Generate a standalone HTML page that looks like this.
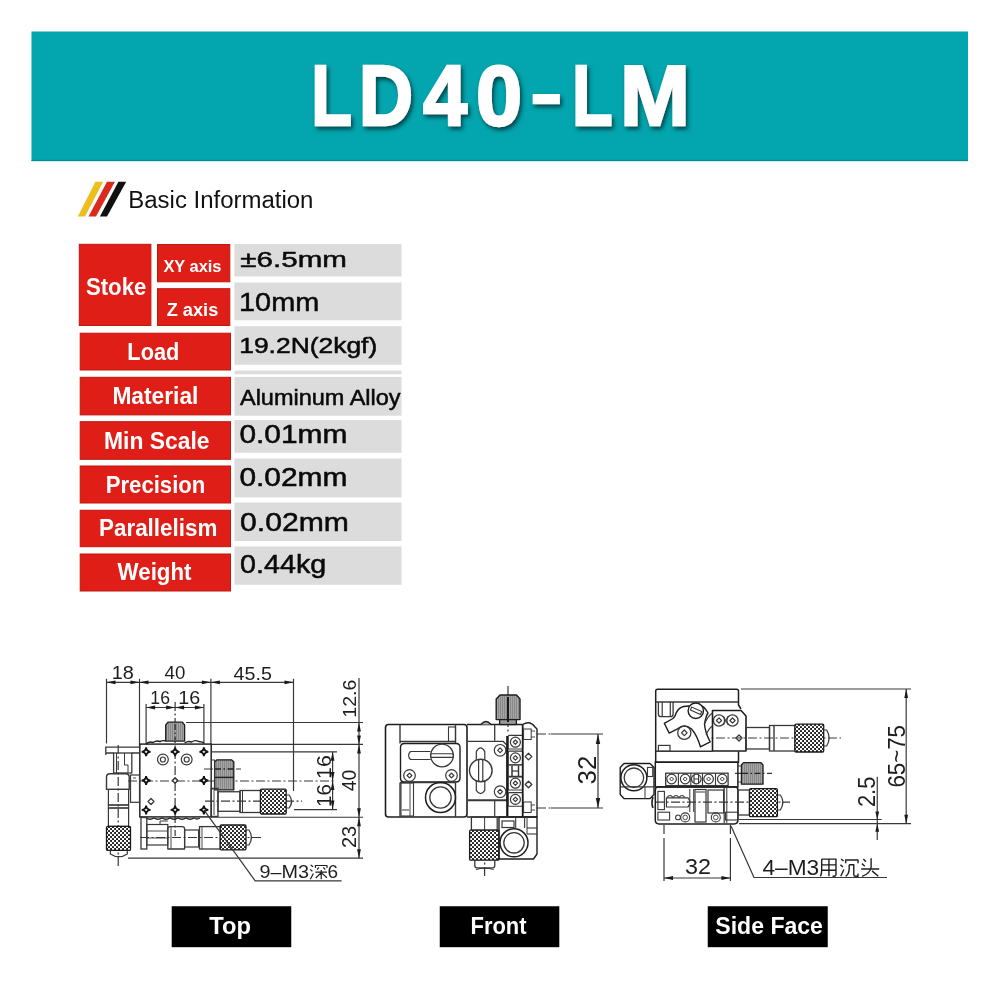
<!DOCTYPE html>
<html><head><meta charset="utf-8">
<style>
html,body{margin:0;padding:0;background:#fff;width:1000px;height:1000px;overflow:hidden;}
svg{position:absolute;left:0;top:0;will-change:transform;}
text{font-family:"Liberation Sans",sans-serif;}
</style></head><body>
<svg width="1000" height="1000" viewBox="0 0 1000 1000">
<defs>
<filter id="sh" x="-10%" y="-30%" width="130%" height="170%">
<feGaussianBlur in="SourceAlpha" stdDeviation="2.0"/>
<feOffset dx="2" dy="3" result="o"/>
<feFlood flood-color="#06343a" flood-opacity="0.85"/>
<feComposite in2="o" operator="in"/>
<feMerge><feMergeNode/><feMergeNode in="SourceGraphic"/></feMerge>
</filter>
</defs>
<rect x="31.5" y="31.5" width="936.5" height="129.5" fill="#03A5AE"/>
<rect x="31.5" y="159.8" width="936.5" height="1.4" fill="#0A8A90"/>
<g filter="url(#sh)"><text x="311.36" y="124.60" font-size="84.61" font-weight="bold" fill="#fff" textLength="40.70" lengthAdjust="spacingAndGlyphs" stroke="#fff" stroke-width="2.4" stroke-linejoin="miter">L</text><text x="358.78" y="124.60" font-size="84.61" font-weight="bold" fill="#fff" textLength="54.40" lengthAdjust="spacingAndGlyphs" stroke="#fff" stroke-width="2.4" stroke-linejoin="miter">D</text><text x="422.94" y="124.60" font-size="84.61" font-weight="bold" fill="#fff" textLength="44.15" lengthAdjust="spacingAndGlyphs" stroke="#fff" stroke-width="2.4" stroke-linejoin="miter">4</text><text x="475.88" y="124.60" font-size="84.61" font-weight="bold" fill="#fff" textLength="46.20" lengthAdjust="spacingAndGlyphs" stroke="#fff" stroke-width="2.4" stroke-linejoin="miter">0</text><text x="571.91" y="124.60" font-size="84.61" font-weight="bold" fill="#fff" textLength="40.64" lengthAdjust="spacingAndGlyphs" stroke="#fff" stroke-width="2.4" stroke-linejoin="miter">L</text><text x="620.05" y="124.60" font-size="84.61" font-weight="bold" fill="#fff" textLength="69.97" lengthAdjust="spacingAndGlyphs" stroke="#fff" stroke-width="2.4" stroke-linejoin="miter">M</text><rect x="532.65" y="94" width="27.2" height="10.2" fill="#fff"/></g>
<polygon points="77.8,216.6 95.4,181.8 103.2,181.8 85,216.6" fill="#EDBF1E"/>
<polygon points="88.5,216.6 107,181.8 114.9,181.8 96,216.6" fill="#DB2A1C"/>
<polygon points="99.9,216.6 118.4,181.8 126.2,181.8 107,216.6" fill="#101010"/>
<text x="128.30" y="208.00" font-size="23.45" font-weight="normal" fill="#111" textLength="185.07" lengthAdjust="spacingAndGlyphs" >Basic Information</text>
<rect x="79.30" y="244.30" width="71.60" height="81.20" fill="#DF1F17" stroke="#C0170F" stroke-width="1"/>
<rect x="157.50" y="244.50" width="72.30" height="37.30" fill="#DF1F17" stroke="#C0170F" stroke-width="1"/>
<rect x="157.50" y="288.70" width="72.30" height="36.80" fill="#DF1F17" stroke="#C0170F" stroke-width="1"/>
<rect x="80.20" y="333.20" width="150.30" height="36.80" fill="#DF1F17" stroke="#C0170F" stroke-width="1"/>
<rect x="80.20" y="377.30" width="150.30" height="37.60" fill="#DF1F17" stroke="#C0170F" stroke-width="1"/>
<rect x="80.20" y="421.70" width="150.30" height="37.60" fill="#DF1F17" stroke="#C0170F" stroke-width="1"/>
<rect x="80.20" y="466.00" width="150.30" height="37.00" fill="#DF1F17" stroke="#C0170F" stroke-width="1"/>
<rect x="80.20" y="510.25" width="150.30" height="36.45" fill="#DF1F17" stroke="#C0170F" stroke-width="1"/>
<rect x="80.20" y="554.00" width="150.30" height="37.00" fill="#DF1F17" stroke="#C0170F" stroke-width="1"/>
<text x="85.93" y="295.30" font-size="23.30" font-weight="bold" fill="#fff" textLength="60.40" lengthAdjust="spacingAndGlyphs" >Stoke</text>
<text x="163.44" y="271.90" font-size="17.04" font-weight="bold" fill="#fff" textLength="58.02" lengthAdjust="spacingAndGlyphs" >XY axis</text>
<text x="166.65" y="316.00" font-size="18.35" font-weight="bold" fill="#fff" textLength="51.64" lengthAdjust="spacingAndGlyphs" >Z axis</text>
<text x="127.35" y="360.40" font-size="23.30" font-weight="bold" fill="#fff" textLength="51.97" lengthAdjust="spacingAndGlyphs" >Load</text>
<text x="112.38" y="404.40" font-size="23.30" font-weight="bold" fill="#fff" textLength="86.07" lengthAdjust="spacingAndGlyphs" >Material</text>
<text x="104.08" y="448.80" font-size="23.30" font-weight="bold" fill="#fff" textLength="105.47" lengthAdjust="spacingAndGlyphs" >Min Scale</text>
<text x="105.72" y="492.80" font-size="23.30" font-weight="bold" fill="#fff" textLength="99.65" lengthAdjust="spacingAndGlyphs" >Precision</text>
<text x="99.01" y="536.20" font-size="23.30" font-weight="bold" fill="#fff" textLength="118.36" lengthAdjust="spacingAndGlyphs" >Parallelism</text>
<text x="117.60" y="580.20" font-size="23.30" font-weight="bold" fill="#fff" textLength="73.92" lengthAdjust="spacingAndGlyphs" >Weight</text>
<rect x="234.40" y="244.00" width="167.10" height="32.50" fill="#DCDCDC"/>
<rect x="234.40" y="282.50" width="167.10" height="37.80" fill="#DCDCDC"/>
<rect x="234.40" y="326.20" width="167.10" height="38.60" fill="#DCDCDC"/>
<rect x="234.40" y="370.60" width="167.10" height="3.70" fill="#DCDCDC"/>
<rect x="234.40" y="376.90" width="167.10" height="38.80" fill="#DCDCDC"/>
<rect x="234.40" y="420.00" width="167.10" height="32.80" fill="#DCDCDC"/>
<rect x="234.40" y="458.50" width="167.10" height="38.90" fill="#DCDCDC"/>
<rect x="234.40" y="502.50" width="167.10" height="38.50" fill="#DCDCDC"/>
<rect x="234.40" y="546.40" width="167.10" height="38.40" fill="#DCDCDC"/>
<text x="240.36" y="266.55" font-size="22.82" font-weight="normal" fill="#0a0a0a" textLength="106.51" lengthAdjust="spacingAndGlyphs" stroke="#0a0a0a" stroke-width="0.5">±6.5mm</text>
<text x="239.04" y="310.55" font-size="26.07" font-weight="normal" fill="#0a0a0a" textLength="80.19" lengthAdjust="spacingAndGlyphs" stroke="#0a0a0a" stroke-width="0.5">10mm</text>
<text x="239.22" y="352.75" font-size="21.55" font-weight="normal" fill="#0a0a0a" textLength="138.03" lengthAdjust="spacingAndGlyphs" stroke="#0a0a0a" stroke-width="0.5">19.2N(2kgf)</text>
<text x="239.97" y="404.75" font-size="21.70" font-weight="normal" fill="#0a0a0a" textLength="160.64" lengthAdjust="spacingAndGlyphs" stroke="#0a0a0a" stroke-width="0.5">Aluminum Alloy</text>
<text x="239.45" y="443.15" font-size="25.12" font-weight="normal" fill="#0a0a0a" textLength="107.96" lengthAdjust="spacingAndGlyphs" stroke="#0a0a0a" stroke-width="0.5">0.01mm</text>
<text x="239.45" y="486.35" font-size="25.12" font-weight="normal" fill="#0a0a0a" textLength="107.96" lengthAdjust="spacingAndGlyphs" stroke="#0a0a0a" stroke-width="0.5">0.02mm</text>
<text x="240.04" y="530.55" font-size="25.98" font-weight="normal" fill="#0a0a0a" textLength="108.88" lengthAdjust="spacingAndGlyphs" stroke="#0a0a0a" stroke-width="0.5">0.02mm</text>
<text x="240.10" y="572.55" font-size="25.98" font-weight="normal" fill="#0a0a0a" textLength="86.24" lengthAdjust="spacingAndGlyphs" stroke="#0a0a0a" stroke-width="0.5">0.44kg</text>
<rect x="171.70" y="906.25" width="119.55" height="40.95" fill="#000"/>
<rect x="439.75" y="906.25" width="119.55" height="40.95" fill="#000"/>
<rect x="707.75" y="906.25" width="120.00" height="40.95" fill="#000"/>
<text x="209.26" y="934.30" font-size="24.76" font-weight="bold" fill="#fff" textLength="41.72" lengthAdjust="spacingAndGlyphs" >Top</text>
<text x="470.54" y="934.30" font-size="24.76" font-weight="bold" fill="#fff" textLength="56.01" lengthAdjust="spacingAndGlyphs" >Front</text>
<text x="715.31" y="934.30" font-size="24.76" font-weight="bold" fill="#fff" textLength="107.63" lengthAdjust="spacingAndGlyphs" >Side Face</text>
<defs><pattern id="kn" width="4" height="4" patternUnits="userSpaceOnUse"><rect width="4" height="4" fill="#262626"/><rect x="0" y="0" width="2.1" height="2.1" fill="#fdfdfd"/><rect x="2" y="2" width="2.1" height="2.1" fill="#fdfdfd"/></pattern><pattern id="kd" width="4" height="4" patternUnits="userSpaceOnUse" patternTransform="rotate(45)"><rect width="4" height="4" fill="#1c1c1c"/><rect x="0.1" y="0.1" width="1.8" height="1.8" fill="#fbfbfb"/><rect x="2.1" y="2.1" width="1.8" height="1.8" fill="#fbfbfb"/></pattern><pattern id="gk" width="2" height="10" patternUnits="userSpaceOnUse"><rect width="2" height="10" fill="#a6a6a6"/><rect x="0" width="1" height="10" fill="#888888"/></pattern></defs>
<line x1="175.10" y1="702.00" x2="175.10" y2="836.00" stroke="#383838" stroke-width="1.2" stroke-dasharray="9,2.5,2,2.5"/>
<line x1="128.00" y1="781.00" x2="336.00" y2="781.00" stroke="#383838" stroke-width="1.2" stroke-dasharray="9,2.5,2,2.5"/>
<line x1="118.20" y1="745.00" x2="118.20" y2="867.00" stroke="#383838" stroke-width="1.2" stroke-dasharray="9,2.5,2,2.5"/>
<line x1="204.00" y1="769.00" x2="241.00" y2="769.00" stroke="#383838" stroke-width="1.2" stroke-dasharray="9,2.5,2,2.5"/>
<line x1="205.00" y1="801.10" x2="302.00" y2="801.10" stroke="#383838" stroke-width="1.2" stroke-dasharray="9,2.5,2,2.5"/>
<line x1="140.00" y1="837.50" x2="262.00" y2="837.50" stroke="#383838" stroke-width="1.2" stroke-dasharray="9,2.5,2,2.5"/>
<line x1="508.00" y1="686.00" x2="508.00" y2="734.00" stroke="#383838" stroke-width="1.2" stroke-dasharray="9,2.5,2,2.5"/>
<line x1="484.60" y1="835.00" x2="484.60" y2="878.00" stroke="#383838" stroke-width="1.2" stroke-dasharray="9,2.5,2,2.5"/>
<line x1="537.00" y1="734.00" x2="551.00" y2="734.00" stroke="#383838" stroke-width="1.2" stroke-dasharray="9,2.5,2,2.5"/>
<line x1="537.00" y1="808.00" x2="551.00" y2="808.00" stroke="#383838" stroke-width="1.2" stroke-dasharray="9,2.5,2,2.5"/>
<line x1="700.00" y1="738.00" x2="841.00" y2="738.00" stroke="#383838" stroke-width="1.2" stroke-dasharray="9,2.5,2,2.5"/>
<line x1="735.00" y1="773.40" x2="772.00" y2="773.40" stroke="#383838" stroke-width="1.2" stroke-dasharray="9,2.5,2,2.5"/>
<line x1="655.00" y1="802.20" x2="790.00" y2="802.20" stroke="#383838" stroke-width="1.2" stroke-dasharray="9,2.5,2,2.5"/>
<line x1="664.00" y1="825.00" x2="664.00" y2="836.00" stroke="#383838" stroke-width="1.2" stroke-dasharray="9,2.5,2,2.5"/>
<line x1="730.40" y1="825.00" x2="730.40" y2="836.00" stroke="#383838" stroke-width="1.2" stroke-dasharray="9,2.5,2,2.5"/>
<line x1="106.50" y1="682.30" x2="293.50" y2="682.30" stroke="#383838" stroke-width="1.2"/>
<line x1="106.50" y1="678.80" x2="106.50" y2="743.50" stroke="#383838" stroke-width="1.2"/>
<line x1="139.50" y1="678.80" x2="139.50" y2="747.00" stroke="#383838" stroke-width="1.2"/>
<line x1="210.90" y1="678.80" x2="210.90" y2="744.00" stroke="#383838" stroke-width="1.2"/>
<line x1="293.50" y1="678.80" x2="293.50" y2="791.00" stroke="#383838" stroke-width="1.2"/>
<polygon points="106.50,682.30 115.50,680.40 115.50,684.20" fill="#1a1a1a"/>
<polygon points="139.50,682.30 130.50,684.20 130.50,680.40" fill="#1a1a1a"/>
<polygon points="139.50,682.30 148.50,680.40 148.50,684.20" fill="#1a1a1a"/>
<polygon points="210.90,682.30 201.90,684.20 201.90,680.40" fill="#1a1a1a"/>
<polygon points="210.90,682.30 219.90,680.40 219.90,684.20" fill="#1a1a1a"/>
<polygon points="293.50,682.30 284.50,684.20 284.50,680.40" fill="#1a1a1a"/>
<text x="111.67" y="679.10" font-size="18.66" font-weight="normal" fill="#1e1e1e" textLength="22.17" lengthAdjust="spacingAndGlyphs" >18</text>
<text x="164.56" y="679.10" font-size="18.66" font-weight="normal" fill="#1e1e1e" textLength="20.76" lengthAdjust="spacingAndGlyphs" >40</text>
<text x="233.54" y="680.20" font-size="19.09" font-weight="normal" fill="#1e1e1e" textLength="38.30" lengthAdjust="spacingAndGlyphs" >45.5</text>
<line x1="146.10" y1="707.50" x2="203.90" y2="707.50" stroke="#383838" stroke-width="1.2"/>
<line x1="146.10" y1="704.00" x2="146.10" y2="744.00" stroke="#383838" stroke-width="1.2"/>
<line x1="203.90" y1="704.00" x2="203.90" y2="744.00" stroke="#383838" stroke-width="1.2"/>
<polygon points="146.10,707.50 155.10,705.60 155.10,709.40" fill="#1a1a1a"/>
<polygon points="175.10,707.50 166.10,709.40 166.10,705.60" fill="#1a1a1a"/>
<polygon points="175.10,707.50 184.10,705.60 184.10,709.40" fill="#1a1a1a"/>
<polygon points="203.90,707.50 194.90,709.40 194.90,705.60" fill="#1a1a1a"/>
<text x="150.35" y="704.00" font-size="19.09" font-weight="normal" fill="#1e1e1e" textLength="19.60" lengthAdjust="spacingAndGlyphs" >16</text>
<text x="178.19" y="704.00" font-size="19.09" font-weight="normal" fill="#1e1e1e" textLength="21.95" lengthAdjust="spacingAndGlyphs" >16</text>
<line x1="186.00" y1="722.50" x2="363.00" y2="722.50" stroke="#383838" stroke-width="1.2"/>
<line x1="211.00" y1="744.40" x2="363.00" y2="744.40" stroke="#383838" stroke-width="1.2"/>
<line x1="211.00" y1="751.80" x2="337.00" y2="751.80" stroke="#383838" stroke-width="1.2"/>
<line x1="294.00" y1="809.60" x2="337.00" y2="809.60" stroke="#383838" stroke-width="1.2"/>
<line x1="211.00" y1="817.25" x2="363.00" y2="817.25" stroke="#383838" stroke-width="1.2"/>
<line x1="128.00" y1="858.20" x2="363.00" y2="858.20" stroke="#383838" stroke-width="1.2"/>
<line x1="359.00" y1="678.00" x2="359.00" y2="858.20" stroke="#383838" stroke-width="1.2"/>
<polygon points="359.00,722.50 360.90,731.50 357.10,731.50" fill="#1a1a1a"/>
<polygon points="359.00,744.40 357.10,735.40 360.90,735.40" fill="#1a1a1a"/>
<polygon points="359.00,744.40 360.90,753.40 357.10,753.40" fill="#1a1a1a"/>
<polygon points="359.00,817.25 357.10,808.25 360.90,808.25" fill="#1a1a1a"/>
<polygon points="359.00,817.25 360.90,826.25 357.10,826.25" fill="#1a1a1a"/>
<polygon points="359.00,858.20 357.10,849.20 360.90,849.20" fill="#1a1a1a"/>
<line x1="332.60" y1="751.80" x2="332.60" y2="809.60" stroke="#383838" stroke-width="1.2"/>
<polygon points="332.60,751.80 334.50,760.80 330.70,760.80" fill="#1a1a1a"/>
<polygon points="332.60,781.00 330.70,772.00 334.50,772.00" fill="#1a1a1a"/>
<polygon points="332.60,781.00 334.50,790.00 330.70,790.00" fill="#1a1a1a"/>
<polygon points="332.60,809.60 330.70,800.60 334.50,800.60" fill="#1a1a1a"/>
<g transform="translate(356.40,716.20) rotate(-90)"><text x="-1.50" y="0" font-size="18.23" font-weight="normal" fill="#1e1e1e" textLength="38.04" lengthAdjust="spacingAndGlyphs" >12.6</text></g>
<g transform="translate(331.00,777.30) rotate(-90)"><text x="-1.64" y="0" font-size="19.67" font-weight="normal" fill="#1e1e1e" textLength="23.85" lengthAdjust="spacingAndGlyphs" >16</text></g>
<g transform="translate(331.00,805.40) rotate(-90)"><text x="-1.57" y="0" font-size="19.67" font-weight="normal" fill="#1e1e1e" textLength="22.84" lengthAdjust="spacingAndGlyphs" >16</text></g>
<g transform="translate(356.40,790.90) rotate(-90)"><text x="-0.45" y="0" font-size="19.52" font-weight="normal" fill="#1e1e1e" textLength="21.61" lengthAdjust="spacingAndGlyphs" >40</text></g>
<g transform="translate(356.40,847.00) rotate(-90)"><text x="-1.00" y="0" font-size="19.52" font-weight="normal" fill="#1e1e1e" textLength="22.25" lengthAdjust="spacingAndGlyphs" >23</text></g>
<path d="M165.7,741.1 L165.7,725 L168,722.2 L182.3,722.2 L184.6,725 L184.6,741.1 Z" stroke="#1e1e1e" stroke-width="1.3" fill="url(#gk)" stroke-linejoin="round"/>
<line x1="175.10" y1="724.00" x2="175.10" y2="740.00" stroke="#222" stroke-width="1.2" stroke-dasharray="6,2.5,1.5,2.5"/>
<path d="M146,744 q3.5,-3 7,-1.5 q3.5,-2.5 7,-1 q3,-1.5 5.5,-0.5 M184.6,743 q3.5,-2.5 7,-1 q3.5,-2.5 7,-0.5 q3,0 5.5,1.5" stroke="#222" stroke-width="1.4" fill="none" stroke-linejoin="round"/>
<rect x="139.80" y="744.10" width="71.40" height="72.80" rx="0" stroke="#262626" stroke-width="1.5" fill="none"/>
<path d="M146,818 q4,2.5 8,0 q4,2.5 8,0 q4,2.5 8,0 q4,2.5 8,0 q4,2.5 8,0 q4,2.5 8,0 q3,2 6,0" stroke="#222" stroke-width="1.3" fill="none" stroke-linejoin="round"/>
<path d="M141.70,751.80 Q145.75,751.45 146.10,747.40 Q146.45,751.45 150.50,751.80 Q146.45,752.15 146.10,756.20 Q145.75,752.15 141.70,751.80Z" fill="#fff" stroke="#111" stroke-width="1.8"/>
<path d="M141.70,780.50 Q145.75,780.15 146.10,776.10 Q146.45,780.15 150.50,780.50 Q146.45,780.85 146.10,784.90 Q145.75,780.85 141.70,780.50Z" fill="#fff" stroke="#111" stroke-width="1.8"/>
<path d="M141.70,809.90 Q145.75,809.55 146.10,805.50 Q146.45,809.55 150.50,809.90 Q146.45,810.25 146.10,814.30 Q145.75,810.25 141.70,809.90Z" fill="#fff" stroke="#111" stroke-width="1.8"/>
<path d="M170.70,751.80 Q174.75,751.45 175.10,747.40 Q175.45,751.45 179.50,751.80 Q175.45,752.15 175.10,756.20 Q174.75,752.15 170.70,751.80Z" fill="#fff" stroke="#111" stroke-width="1.8"/>
<polygon points="172.30,780.50 175.10,777.70 177.90,780.50 175.10,783.30" stroke="#383838" stroke-width="1.3" fill="none" stroke-linejoin="round"/>
<path d="M170.70,809.90 Q174.75,809.55 175.10,805.50 Q175.45,809.55 179.50,809.90 Q175.45,810.25 175.10,814.30 Q174.75,810.25 170.70,809.90Z" fill="#fff" stroke="#111" stroke-width="1.8"/>
<path d="M199.50,751.80 Q203.55,751.45 203.90,747.40 Q204.25,751.45 208.30,751.80 Q204.25,752.15 203.90,756.20 Q203.55,752.15 199.50,751.80Z" fill="#fff" stroke="#111" stroke-width="1.8"/>
<path d="M199.50,780.50 Q203.55,780.15 203.90,776.10 Q204.25,780.15 208.30,780.50 Q204.25,780.85 203.90,784.90 Q203.55,780.85 199.50,780.50Z" fill="#fff" stroke="#111" stroke-width="1.8"/>
<path d="M199.50,809.90 Q203.55,809.55 203.90,805.50 Q204.25,809.55 208.30,809.90 Q204.25,810.25 203.90,814.30 Q203.55,810.25 199.50,809.90Z" fill="#fff" stroke="#111" stroke-width="1.8"/>
<circle cx="162.90" cy="759.50" r="5.40" stroke="#383838" stroke-width="1.2" fill="none"/>
<circle cx="162.90" cy="759.50" r="2.50" stroke="#383838" stroke-width="1.2" fill="none"/>
<circle cx="186.70" cy="759.50" r="5.40" stroke="#383838" stroke-width="1.2" fill="none"/>
<circle cx="186.70" cy="759.50" r="2.50" stroke="#383838" stroke-width="1.2" fill="none"/>
<polygon points="148.00,801.50 151.00,798.50 154.00,801.50 151.00,804.50" stroke="#383838" stroke-width="1.3" fill="none" stroke-linejoin="round"/>
<path d="M105.8,755 L105.8,747.1 L139.5,747.1 M105.8,753 L113.6,753 M131.8,753 L139.5,753" stroke="#383838" stroke-width="1.3" fill="none" stroke-linejoin="round"/>
<rect x="113.60" y="753.00" width="18.20" height="20.00" rx="0" stroke="#383838" stroke-width="1.3" fill="none"/>
<line x1="116.50" y1="753.00" x2="116.50" y2="773.00" stroke="#383838" stroke-width="1.0"/>
<line x1="124.50" y1="753.00" x2="124.50" y2="765.00" stroke="#383838" stroke-width="1.0"/>
<path d="M124.5,765 L128,765 L128,773" stroke="#383838" stroke-width="1.0" fill="none" stroke-linejoin="round"/>
<rect x="130.50" y="775.00" width="9.00" height="27.30" rx="0" stroke="#383838" stroke-width="1.2" fill="none"/>
<line x1="133.00" y1="778.00" x2="136.00" y2="778.00" stroke="#383838" stroke-width="0.9"/>
<path d="M106.5,789.4 L106.5,777 Q106.5,773.8 110,773.8 L125.7,773.8 Q129.2,773.8 129.2,777 L129.2,789.4 Z" stroke="#383838" stroke-width="1.4" fill="none" stroke-linejoin="round"/>
<rect x="108.40" y="789.40" width="20.20" height="15.60" rx="0" stroke="#383838" stroke-width="1.2" fill="none"/>
<rect x="108.40" y="805.00" width="20.20" height="3.00" rx="0" stroke="#383838" stroke-width="1.1" fill="none"/>
<rect x="108.40" y="808.00" width="20.20" height="18.40" rx="0" stroke="#383838" stroke-width="1.2" fill="none"/>
<rect x="106.50" y="826.40" width="24.00" height="24.00" rx="1.2" fill="url(#kn)" stroke="#1a1a1a" stroke-width="1.3"/>
<path d="M110.40,850.40 L110.40,853.90 Q118.85,859.50 127.30,853.90 L127.30,850.40" stroke="#383838" stroke-width="1.2" fill="none" stroke-linejoin="round"/>
<path d="M214.6,789.8 L214.6,762 L217,759.8 L231.5,759.8 L233.8,762 L233.8,789.8 Z" stroke="#1e1e1e" stroke-width="1.3" fill="url(#gk)" stroke-linejoin="round"/>
<line x1="214.60" y1="777.40" x2="233.80" y2="777.40" stroke="#222" stroke-width="1.4"/>
<line x1="215.00" y1="769.00" x2="234.00" y2="769.00" stroke="#222" stroke-width="1.3" stroke-dasharray="6,2.5,1.5,2.5"/>
<rect x="211.50" y="760.00" width="3.10" height="29.00" rx="0" stroke="#383838" stroke-width="1.0" fill="none"/>
<rect x="211.20" y="788.40" width="6.80" height="28.00" rx="0" stroke="#383838" stroke-width="1.3" fill="none"/>
<line x1="214.00" y1="790.00" x2="214.00" y2="815.00" stroke="#383838" stroke-width="0.9"/>
<rect x="218.00" y="791.75" width="22.00" height="19.55" rx="0" stroke="#383838" stroke-width="1.3" fill="none"/>
<rect x="240.00" y="790.50" width="21.00" height="22.00" rx="0" stroke="#383838" stroke-width="1.3" fill="none"/>
<line x1="242.50" y1="791.00" x2="242.50" y2="812.00" stroke="#383838" stroke-width="1.0"/>
<rect x="260.40" y="789.20" width="25.80" height="24.80" rx="1.2" fill="url(#kn)" stroke="#1a1a1a" stroke-width="1.3"/>
<path d="M286.20,795.00 L289.20,795.00 Q294.00,801.50 289.20,808.00 L286.20,808.00" stroke="#383838" stroke-width="1.2" fill="none" stroke-linejoin="round"/>
<rect x="141.00" y="817.50" width="5.80" height="31.50" rx="0" stroke="#383838" stroke-width="1.3" fill="none"/>
<rect x="146.80" y="824.50" width="21.00" height="20.50" rx="0" stroke="#383838" stroke-width="1.2" fill="none"/>
<line x1="146.80" y1="831.00" x2="167.80" y2="831.00" stroke="#383838" stroke-width="0.9"/>
<line x1="146.80" y1="838.00" x2="167.80" y2="838.00" stroke="#383838" stroke-width="0.9"/>
<path d="M160,824.5 L160,821 L167.8,821" stroke="#383838" stroke-width="1.0" fill="none" stroke-linejoin="round"/>
<path d="M167.8,849 L167.8,829 Q167.8,826.6 170,826.6 L182.4,826.6 Q184.6,826.6 184.6,829 L184.6,849 Z" stroke="#383838" stroke-width="1.3" fill="none" stroke-linejoin="round"/>
<line x1="171.00" y1="826.60" x2="171.00" y2="849.00" stroke="#383838" stroke-width="0.9"/>
<rect x="184.60" y="830.00" width="14.00" height="17.00" rx="0" stroke="#383838" stroke-width="1.2" fill="none"/>
<rect x="199.50" y="826.60" width="20.80" height="22.40" rx="0" stroke="#383838" stroke-width="1.3" fill="none"/>
<line x1="202.00" y1="827.00" x2="202.00" y2="849.00" stroke="#383838" stroke-width="0.9"/>
<rect x="220.20" y="825.00" width="25.80" height="24.80" rx="1.2" fill="url(#kn)" stroke="#1a1a1a" stroke-width="1.3"/>
<path d="M246.00,830.00 L249.00,830.00 Q253.80,837.50 249.00,845.00 L246.00,845.00" stroke="#383838" stroke-width="1.2" fill="none" stroke-linejoin="round"/>
<polyline points="203.90,809.90 255.20,880.80 341.60,880.80" stroke="#383838" stroke-width="1.2" fill="none" stroke-linejoin="round"/>
<text x="259.48" y="877.80" font-size="18.95" font-weight="normal" fill="#1e1e1e" textLength="49.55" lengthAdjust="spacingAndGlyphs" >9–M3</text>
<path d="M310.68,864.90 L313.06,866.68 M310.00,869.37 L312.38,871.15 M310.34,879.20 L313.40,873.54 M315.44,867.88 L315.44,865.49 L327.00,865.49 L327.00,867.88 M318.84,867.28 L317.14,869.66 M323.26,867.28 L325.30,869.66 M315.44,872.05 L327.00,872.05 M321.22,869.96 L321.22,879.20 M321.22,872.64 L315.78,878.01 M321.22,872.64 L327.00,877.71" stroke="#1e1e1e" stroke-width="1.2" fill="none" stroke-linejoin="round"/>
<text x="327.45" y="877.80" font-size="18.95" font-weight="normal" fill="#1e1e1e" textLength="10.56" lengthAdjust="spacingAndGlyphs" >6</text>
<rect x="385.50" y="724.50" width="81.50" height="92.50" rx="3" stroke="#1e1e1e" stroke-width="1.6" fill="none"/>
<line x1="400.00" y1="724.50" x2="400.00" y2="743.50" stroke="#383838" stroke-width="1.4"/>
<line x1="455.50" y1="724.50" x2="455.50" y2="743.50" stroke="#383838" stroke-width="1.4"/>
<line x1="400.00" y1="741.50" x2="455.50" y2="741.50" stroke="#383838" stroke-width="1.4"/>
<rect x="448.50" y="727.00" width="7.00" height="14.50" rx="0" stroke="#383838" stroke-width="1.1" fill="none"/>
<path d="M404.5,743.5 L456,743.5 Q460,743.5 460,747.5 L460,778 Q460,782 456,782 L404.5,782 Q400.5,782 400.5,778 L400.5,747.5 Q400.5,743.5 404.5,743.5 Z" stroke="#1e1e1e" stroke-width="1.4" fill="none" stroke-linejoin="round"/>
<path d="M430.5,751.5 L410.5,751.5 Q406.5,755.5 410.5,759.5 L430.5,759.5" stroke="#383838" stroke-width="1.2" fill="none" stroke-linejoin="round"/>
<circle cx="442.00" cy="755.50" r="11.30" stroke="#383838" stroke-width="1.3" fill="#fff"/>
<rect x="430.50" y="753.80" width="23.00" height="3.60" rx="1.5" stroke="#383838" stroke-width="1.1" fill="none"/>
<circle cx="409.50" cy="775.50" r="5.80" stroke="#383838" stroke-width="1.2" fill="none"/>
<polygon points="407.10,775.50 409.50,773.10 411.90,775.50 409.50,777.90" stroke="#383838" stroke-width="1.2" fill="none" stroke-linejoin="round"/>
<circle cx="451.50" cy="775.50" r="5.80" stroke="#383838" stroke-width="1.2" fill="none"/>
<polygon points="449.10,775.50 451.50,773.10 453.90,775.50 451.50,777.90" stroke="#383838" stroke-width="1.2" fill="none" stroke-linejoin="round"/>
<line x1="400.00" y1="782.50" x2="455.50" y2="782.50" stroke="#383838" stroke-width="1.4"/>
<line x1="400.00" y1="782.50" x2="400.00" y2="817.00" stroke="#383838" stroke-width="1.4"/>
<line x1="455.50" y1="782.50" x2="455.50" y2="817.00" stroke="#383838" stroke-width="1.4"/>
<rect x="401.00" y="783.00" width="12.50" height="33.00" rx="0" stroke="#383838" stroke-width="1.1" fill="none"/>
<line x1="410.00" y1="783.00" x2="410.00" y2="816.00" stroke="#383838" stroke-width="0.9"/>
<line x1="402.00" y1="810.00" x2="409.00" y2="810.00" stroke="#777" stroke-width="1.5"/>
<circle cx="440.50" cy="797.50" r="15.00" stroke="#1e1e1e" stroke-width="1.5" fill="none"/>
<circle cx="440.50" cy="797.50" r="10.70" stroke="#383838" stroke-width="1.3" fill="none"/>
<path d="M467,724.5 L522.7,724.5 M467,817 L537,817" stroke="#1e1e1e" stroke-width="1.6" fill="none" stroke-linejoin="round"/>
<line x1="494.70" y1="724.50" x2="494.70" y2="740.80" stroke="#383838" stroke-width="1.3"/>
<path d="M467.5,741.3 L503,741.3 L507.3,745.5 L507.3,799.8 L467.5,799.8" stroke="#383838" stroke-width="1.3" fill="none" stroke-linejoin="round"/>
<line x1="467.50" y1="800.70" x2="507.30" y2="800.70" stroke="#383838" stroke-width="1.2"/>
<line x1="494.70" y1="800.70" x2="494.70" y2="817.00" stroke="#383838" stroke-width="1.2"/>
<path d="M484.8,751.6 L484.8,790.4 Q480.55,797 476.3,790.4 L476.3,751.6 Q480.55,744 484.8,751.6 Z" stroke="#383838" stroke-width="1.2" fill="none" stroke-linejoin="round"/>
<circle cx="480.80" cy="770.50" r="11.30" stroke="#383838" stroke-width="1.4" fill="#fff"/>
<rect x="478.60" y="759.50" width="4.20" height="22.00" rx="1.5" stroke="#383838" stroke-width="1.2" fill="none"/>
<circle cx="500.10" cy="750.30" r="5.80" stroke="#383838" stroke-width="1.2" fill="none"/>
<polygon points="497.70,750.30 500.10,747.90 502.50,750.30 500.10,752.70" stroke="#383838" stroke-width="1.2" fill="none" stroke-linejoin="round"/>
<circle cx="500.10" cy="791.70" r="5.80" stroke="#383838" stroke-width="1.2" fill="none"/>
<polygon points="497.70,791.70 500.10,789.30 502.50,791.70 500.10,794.10" stroke="#383838" stroke-width="1.2" fill="none" stroke-linejoin="round"/>
<line x1="507.30" y1="736.00" x2="507.30" y2="816.00" stroke="#111" stroke-width="2.2"/>
<rect x="508.20" y="735.40" width="14.50" height="13.60" rx="1" stroke="#383838" stroke-width="1.1" fill="none"/>
<circle cx="515.40" cy="742.20" r="5.00" stroke="#383838" stroke-width="1.2" fill="none"/>
<polygon points="513.20,742.20 515.40,740.00 517.60,742.20 515.40,744.40" stroke="#383838" stroke-width="1.2" fill="none" stroke-linejoin="round"/>
<rect x="508.20" y="751.10" width="14.50" height="13.60" rx="1" stroke="#383838" stroke-width="1.1" fill="none"/>
<circle cx="515.40" cy="757.90" r="5.00" stroke="#383838" stroke-width="1.2" fill="none"/>
<polygon points="513.20,757.90 515.40,755.70 517.60,757.90 515.40,760.10" stroke="#383838" stroke-width="1.2" fill="none" stroke-linejoin="round"/>
<rect x="508.20" y="776.40" width="14.50" height="13.60" rx="1" stroke="#383838" stroke-width="1.1" fill="none"/>
<circle cx="515.40" cy="783.20" r="5.00" stroke="#383838" stroke-width="1.2" fill="none"/>
<polygon points="513.20,783.20 515.40,781.00 517.60,783.20 515.40,785.40" stroke="#383838" stroke-width="1.2" fill="none" stroke-linejoin="round"/>
<rect x="508.20" y="792.60" width="14.50" height="13.60" rx="1" stroke="#383838" stroke-width="1.1" fill="none"/>
<circle cx="515.40" cy="799.40" r="5.00" stroke="#383838" stroke-width="1.2" fill="none"/>
<polygon points="513.20,799.40 515.40,797.20 517.60,799.40 515.40,801.60" stroke="#383838" stroke-width="1.2" fill="none" stroke-linejoin="round"/>
<rect x="508.20" y="765.00" width="14.50" height="12.00" rx="0" stroke="#383838" stroke-width="1.1" fill="none"/>
<line x1="512.00" y1="765.50" x2="512.00" y2="776.50" stroke="#383838" stroke-width="1.5"/>
<line x1="518.50" y1="765.50" x2="518.50" y2="776.50" stroke="#383838" stroke-width="1.5"/>
<line x1="512.00" y1="771.00" x2="518.50" y2="771.00" stroke="#383838" stroke-width="1.2"/>
<line x1="522.70" y1="724.50" x2="522.70" y2="817.00" stroke="#1e1e1e" stroke-width="1.8"/>
<path d="M522.7,724.5 Q530,720 535,727 L537,729 L537,817" stroke="#1e1e1e" stroke-width="1.4" fill="none" stroke-linejoin="round"/>
<polygon points="525.20,756.60 528.50,753.30 531.80,756.60 528.50,759.90" stroke="#383838" stroke-width="1.3" fill="none" stroke-linejoin="round"/>
<polygon points="525.20,784.50 528.50,781.20 531.80,784.50 528.50,787.80" stroke="#383838" stroke-width="1.3" fill="none" stroke-linejoin="round"/>
<rect x="523.60" y="729.00" width="7.60" height="10.50" rx="0" stroke="#383838" stroke-width="1.0" fill="none"/>
<rect x="523.60" y="802.00" width="7.60" height="10.50" rx="0" stroke="#383838" stroke-width="1.0" fill="none"/>
<line x1="531.20" y1="731.00" x2="535.00" y2="731.00" stroke="#383838" stroke-width="0.9"/>
<line x1="531.20" y1="737.00" x2="535.00" y2="737.00" stroke="#383838" stroke-width="0.9"/>
<line x1="531.20" y1="805.00" x2="535.00" y2="805.00" stroke="#383838" stroke-width="0.9"/>
<line x1="531.20" y1="810.00" x2="535.00" y2="810.00" stroke="#383838" stroke-width="0.9"/>
<path d="M496.2,719.6 L496.2,699 L500,695 L516.5,695 L520,699 L520,719.6 Z" stroke="#1e1e1e" stroke-width="1.4" fill="url(#gk)" stroke-linejoin="round"/>
<rect x="499.60" y="719.60" width="16.80" height="4.90" rx="0" stroke="#1e1e1e" stroke-width="1.3" fill="#9a9a9a"/>
<path d="M481,724.5 q5,-6 10,0" stroke="#222" stroke-width="1.3" fill="#bbb" stroke-linejoin="round"/>
<line x1="508.00" y1="697.00" x2="508.00" y2="722.00" stroke="#1a1a1a" stroke-width="2.0"/>
<rect x="471.40" y="817.00" width="25.80" height="13.20" rx="0" stroke="#383838" stroke-width="1.3" fill="none"/>
<line x1="484.60" y1="817.00" x2="484.60" y2="830.00" stroke="#383838" stroke-width="1.0"/>
<rect x="469.60" y="830.20" width="29.40" height="30.00" rx="1.2" fill="url(#kn)" stroke="#1a1a1a" stroke-width="1.3"/>
<path d="M474.8,860.2 L474.8,865.5 Q474.8,867.8 477,867.8 L492.6,867.8 Q494.8,867.8 494.8,865.5 L494.8,860.2" stroke="#383838" stroke-width="1.3" fill="none" stroke-linejoin="round"/>
<path d="M476,869.5 Q484.8,867 493.6,869.5" stroke="#383838" stroke-width="1.1" fill="none" stroke-linejoin="round"/>
<path d="M499,817 L537,817 L537,854 L533.5,859 L499,859 Z" stroke="#1e1e1e" stroke-width="1.4" fill="none" stroke-linejoin="round"/>
<circle cx="514.00" cy="842.80" r="14.00" stroke="#1e1e1e" stroke-width="1.5" fill="none"/>
<circle cx="514.00" cy="842.80" r="10.20" stroke="#383838" stroke-width="1.3" fill="none"/>
<rect x="502.00" y="821.00" width="12.00" height="6.50" rx="0" stroke="#383838" stroke-width="1.2" fill="none"/>
<line x1="515.70" y1="817.00" x2="515.70" y2="828.00" stroke="#383838" stroke-width="1.1"/>
<line x1="524.60" y1="817.00" x2="524.60" y2="828.00" stroke="#383838" stroke-width="1.1"/>
<line x1="527.00" y1="828.00" x2="537.00" y2="828.00" stroke="#383838" stroke-width="1.1"/>
<line x1="527.00" y1="834.00" x2="537.00" y2="834.00" stroke="#383838" stroke-width="1.1"/>
<line x1="527.00" y1="817.00" x2="527.00" y2="834.00" stroke="#383838" stroke-width="1.0"/>
<line x1="551.00" y1="734.00" x2="603.00" y2="734.00" stroke="#383838" stroke-width="1.2"/>
<line x1="551.00" y1="808.00" x2="603.00" y2="808.00" stroke="#383838" stroke-width="1.2"/>
<line x1="598.00" y1="734.00" x2="598.00" y2="808.00" stroke="#383838" stroke-width="1.2"/>
<polygon points="598.00,734.00 600.20,744.00 595.80,744.00" fill="#1a1a1a"/>
<polygon points="598.00,808.00 595.80,798.00 600.20,798.00" fill="#1a1a1a"/>
<g transform="translate(595.50,783.50) rotate(-90)"><text x="-0.95" y="0" font-size="26.56" font-weight="normal" fill="#1e1e1e" textLength="28.71" lengthAdjust="spacingAndGlyphs" >32</text></g>
<path d="M741,709 L738.5,705 L738.5,691 Q738.5,689.2 736.5,689.2 L657.7,689.2 Q655.7,689.2 655.7,691 L655.7,762.2 L738.5,762.2 L738.5,751.5" stroke="#1e1e1e" stroke-width="1.5" fill="none" stroke-linejoin="round"/>
<line x1="655.70" y1="702.00" x2="738.50" y2="702.00" stroke="#383838" stroke-width="1.4"/>
<line x1="655.70" y1="751.30" x2="712.50" y2="751.30" stroke="#383838" stroke-width="1.4"/>
<line x1="741.00" y1="689.00" x2="911.00" y2="689.00" stroke="#383838" stroke-width="1.2"/>
<path d="M712.5,751 L712.5,710.5 L741,710.5 L746,716 L746,751 Z" stroke="#1e1e1e" stroke-width="1.6" fill="none" stroke-linejoin="round"/>
<circle cx="719.00" cy="720.50" r="5.60" stroke="#383838" stroke-width="1.3" fill="none"/>
<polygon points="716.40,720.50 719.00,717.90 721.60,720.50 719.00,723.10" stroke="#383838" stroke-width="1.2" fill="none" stroke-linejoin="round"/>
<circle cx="732.50" cy="720.50" r="5.60" stroke="#383838" stroke-width="1.3" fill="none"/>
<polygon points="729.90,720.50 732.50,717.90 735.10,720.50 732.50,723.10" stroke="#383838" stroke-width="1.2" fill="none" stroke-linejoin="round"/>
<line x1="723.50" y1="716.00" x2="728.00" y2="725.00" stroke="#383838" stroke-width="0.9"/>
<line x1="728.00" y1="716.00" x2="723.50" y2="725.00" stroke="#383838" stroke-width="0.9"/>
<path d="M658.4,702 L658.4,714 Q658.4,716.7 661,716.7 L670.5,716.7 Q673.1,716.7 673.1,714 L673.1,702" stroke="#383838" stroke-width="1.3" fill="none" stroke-linejoin="round"/>
<line x1="662.20" y1="702.00" x2="662.20" y2="716.70" stroke="#383838" stroke-width="1.2"/>
<line x1="670.30" y1="702.00" x2="670.30" y2="716.70" stroke="#383838" stroke-width="1.2"/>
<path d="M664.3,723.3 L669.2,733.1 L678,728.6 Q684.3,723 691.5,729 Q697,735 700.4,746.8 L710.2,741.9 Q705,732 704.5,724 Q706,716 708,713 Q704,705.5 698.5,705 L683.6,706.5 Q677.3,708 675,716 L673,718.5 Z" stroke="#1e1e1e" stroke-width="1.4" fill="#fff" stroke-linejoin="round"/>
<circle cx="695.80" cy="710.75" r="7.70" stroke="#1e1e1e" stroke-width="1.4" fill="#fff"/>
<g transform="rotate(24 696 711)"><rect x="690.5" y="709.2" width="11" height="3.2" fill="#fff" stroke="#333" stroke-width="1.1"/></g>
<circle cx="684.30" cy="732.80" r="6.60" stroke="#383838" stroke-width="1.3" fill="none"/>
<polygon points="681.50,732.80 684.30,730.00 687.10,732.80 684.30,735.60" stroke="#383838" stroke-width="1.2" fill="none" stroke-linejoin="round"/>
<path d="M704.5,724 Q708,716 712.5,713 M706,735 Q709,728 712.5,726" stroke="#383838" stroke-width="1.1" fill="none" stroke-linejoin="round"/>
<rect x="658.40" y="745.40" width="11.60" height="5.90" rx="0" stroke="#383838" stroke-width="1.2" fill="none"/>
<rect x="746.00" y="727.50" width="23.50" height="21.50" rx="0" stroke="#383838" stroke-width="1.3" fill="none"/>
<rect x="769.50" y="725.50" width="25.50" height="25.50" rx="0" stroke="#383838" stroke-width="1.3" fill="none"/>
<line x1="774.00" y1="725.50" x2="774.00" y2="751.00" stroke="#383838" stroke-width="1.4"/>
<rect x="794.90" y="724.10" width="28.80" height="27.90" rx="1.2" fill="url(#kn)" stroke="#1a1a1a" stroke-width="1.3"/>
<path d="M823.70,730.00 L826.70,730.00 Q831.50,738.00 826.70,746.00 L823.70,746.00" stroke="#383838" stroke-width="1.2" fill="none" stroke-linejoin="round"/>
<polygon points="736.00,738.00 739.00,735.00 742.00,738.00 739.00,741.00" stroke="#383838" stroke-width="1.3" fill="none" stroke-linejoin="round"/>
<rect x="655.30" y="762.20" width="82.60" height="24.70" rx="0" stroke="#1e1e1e" stroke-width="1.5" fill="none"/>
<path d="M624,763.5 L650,763.5 L654,767.5 L654,794.6 L650,798.6 L624,798.6 L620.2,794.6 L620.2,767.5 Z" stroke="#1e1e1e" stroke-width="1.4" fill="none" stroke-linejoin="round"/>
<circle cx="633.90" cy="777.75" r="13.00" stroke="#1e1e1e" stroke-width="1.5" fill="none"/>
<circle cx="633.90" cy="777.75" r="9.75" stroke="#383838" stroke-width="1.3" fill="none"/>
<rect x="647.50" y="767.40" width="5.20" height="9.10" rx="0" stroke="#383838" stroke-width="1.1" fill="none"/>
<line x1="620.20" y1="786.90" x2="654.00" y2="786.90" stroke="#383838" stroke-width="1.1"/>
<line x1="645.00" y1="786.90" x2="645.00" y2="798.60" stroke="#383838" stroke-width="1.0"/>
<rect x="665.70" y="773.20" width="62.40" height="12.40" rx="0" stroke="#383838" stroke-width="1.3" fill="none"/>
<circle cx="671.60" cy="779.00" r="4.80" stroke="#383838" stroke-width="1.2" fill="none"/>
<polygon points="669.60,779.00 671.60,777.00 673.60,779.00 671.60,781.00" stroke="#383838" stroke-width="1.0" fill="none" stroke-linejoin="round"/>
<circle cx="685.20" cy="779.00" r="4.80" stroke="#383838" stroke-width="1.2" fill="none"/>
<polygon points="683.20,779.00 685.20,777.00 687.20,779.00 685.20,781.00" stroke="#383838" stroke-width="1.0" fill="none" stroke-linejoin="round"/>
<circle cx="696.30" cy="779.00" r="4.80" stroke="#383838" stroke-width="1.2" fill="none"/>
<line x1="694.00" y1="775.00" x2="694.00" y2="783.00" stroke="#383838" stroke-width="1.2"/>
<line x1="698.60" y1="775.00" x2="698.60" y2="783.00" stroke="#383838" stroke-width="1.2"/>
<line x1="694.00" y1="779.00" x2="698.60" y2="779.00" stroke="#383838" stroke-width="1.0"/>
<circle cx="708.60" cy="779.00" r="4.80" stroke="#383838" stroke-width="1.2" fill="none"/>
<polygon points="706.60,779.00 708.60,777.00 710.60,779.00 708.60,781.00" stroke="#383838" stroke-width="1.0" fill="none" stroke-linejoin="round"/>
<circle cx="722.30" cy="779.00" r="4.80" stroke="#383838" stroke-width="1.2" fill="none"/>
<polygon points="720.30,779.00 722.30,777.00 724.30,779.00 722.30,781.00" stroke="#383838" stroke-width="1.0" fill="none" stroke-linejoin="round"/>
<line x1="678.40" y1="773.20" x2="678.40" y2="785.60" stroke="#383838" stroke-width="1.1"/>
<line x1="690.80" y1="773.20" x2="690.80" y2="785.60" stroke="#383838" stroke-width="1.1"/>
<line x1="702.50" y1="773.20" x2="702.50" y2="785.60" stroke="#383838" stroke-width="1.1"/>
<line x1="715.50" y1="773.20" x2="715.50" y2="785.60" stroke="#383838" stroke-width="1.1"/>
<path d="M741.4,784.2 L741.4,765 L743.5,762.6 L761,762.6 L763,765 L763,784.2 Z" stroke="#1e1e1e" stroke-width="1.3" fill="url(#gk)" stroke-linejoin="round"/>
<line x1="742.00" y1="773.40" x2="763.00" y2="773.40" stroke="#222" stroke-width="1.3" stroke-dasharray="6,2.5,1.5,2.5"/>
<line x1="738.00" y1="766.00" x2="741.40" y2="766.00" stroke="#383838" stroke-width="1.0"/>
<line x1="738.00" y1="782.00" x2="741.40" y2="782.00" stroke="#383838" stroke-width="1.0"/>
<path d="M655.3,820 L655.3,790 Q655.3,786.9 658,786.9 L735,786.9 Q737.9,786.9 737.9,790 L737.9,820 Q737.9,823.9 734,823.9 L659,823.9 Q655.3,823.9 655.3,820 Z" stroke="#1e1e1e" stroke-width="1.5" fill="none" stroke-linejoin="round"/>
<rect x="657.90" y="791.40" width="6.50" height="18.20" rx="0" stroke="#383838" stroke-width="1.1" fill="none"/>
<path d="M666.4,797.9 L688,797.9 Q692,802.5 688,807 L666.4,807 Z" stroke="#383838" stroke-width="1.2" fill="none" stroke-linejoin="round"/>
<path d="M667,797.5 q3,-4 6,0 q3,-4 6,0 q3,-4 6,0" stroke="#383838" stroke-width="1.1" fill="none" stroke-linejoin="round"/>
<line x1="689.80" y1="789.00" x2="689.80" y2="812.00" stroke="#383838" stroke-width="1.0"/>
<line x1="693.70" y1="789.00" x2="693.70" y2="812.00" stroke="#383838" stroke-width="1.0"/>
<rect x="695.00" y="789.50" width="11.00" height="32.50" rx="0" stroke="#383838" stroke-width="1.2" fill="none"/>
<line x1="695.00" y1="792.00" x2="706.00" y2="792.00" stroke="#888" stroke-width="1.6"/>
<rect x="708.00" y="790.00" width="15.60" height="23.00" rx="0" stroke="#383838" stroke-width="1.2" fill="none"/>
<line x1="724.20" y1="788.00" x2="724.20" y2="823.00" stroke="#383838" stroke-width="1.2"/>
<line x1="726.80" y1="788.00" x2="726.80" y2="823.00" stroke="#383838" stroke-width="1.0"/>
<rect x="657.90" y="812.20" width="11.70" height="7.80" rx="0" stroke="#383838" stroke-width="1.1" fill="none"/>
<rect x="725.50" y="812.20" width="12.40" height="7.80" rx="0" stroke="#383838" stroke-width="1.1" fill="none"/>
<circle cx="678.00" cy="817.40" r="2.40" stroke="#383838" stroke-width="1.1" fill="none"/>
<circle cx="685.20" cy="817.40" r="4.50" stroke="#383838" stroke-width="1.1" fill="none"/>
<circle cx="685.20" cy="817.40" r="2.30" stroke="#383838" stroke-width="0.9" fill="none"/>
<circle cx="715.80" cy="817.40" r="4.50" stroke="#383838" stroke-width="1.1" fill="none"/>
<circle cx="715.80" cy="817.40" r="2.30" stroke="#383838" stroke-width="0.9" fill="none"/>
<path d="M653,797 Q651,803 653,808" stroke="#1e1e1e" stroke-width="1.6" fill="none" stroke-linejoin="round"/>
<rect x="737.90" y="790.00" width="11.60" height="25.00" rx="0" stroke="#383838" stroke-width="1.3" fill="none"/>
<rect x="749.50" y="788.70" width="27.90" height="27.90" rx="1.2" fill="url(#kn)" stroke="#1a1a1a" stroke-width="1.3"/>
<path d="M777.40,795.00 L780.40,795.00 Q785.20,802.50 780.40,810.00 L777.40,810.00" stroke="#383838" stroke-width="1.2" fill="none" stroke-linejoin="round"/>
<line x1="739.00" y1="819.50" x2="881.75" y2="819.50" stroke="#383838" stroke-width="1.2"/>
<line x1="739.00" y1="823.70" x2="911.00" y2="823.70" stroke="#383838" stroke-width="1.2"/>
<line x1="877.25" y1="776.75" x2="877.25" y2="840.00" stroke="#383838" stroke-width="1.2"/>
<polygon points="877.25,819.50 875.35,811.50 879.15,811.50" fill="#1a1a1a"/>
<polygon points="877.25,823.70 879.15,831.70 875.35,831.70" fill="#1a1a1a"/>
<g transform="translate(875.00,806.00) rotate(-90)"><text x="-1.10" y="0" font-size="23.68" font-weight="normal" fill="#1e1e1e" textLength="30.55" lengthAdjust="spacingAndGlyphs" >2.5</text></g>
<line x1="906.20" y1="689.00" x2="906.20" y2="823.70" stroke="#383838" stroke-width="1.2"/>
<polygon points="906.20,689.00 908.10,698.00 904.30,698.00" fill="#1a1a1a"/>
<polygon points="906.20,823.70 904.30,814.70 908.10,814.70" fill="#1a1a1a"/>
<g transform="translate(904.50,786.50) rotate(-90)"><text x="-1.11" y="0" font-size="23.97" font-weight="normal" fill="#1e1e1e" textLength="62.55" lengthAdjust="spacingAndGlyphs" >65~75</text></g>
<line x1="664.00" y1="838.00" x2="664.00" y2="881.00" stroke="#383838" stroke-width="1.2"/>
<line x1="730.40" y1="838.00" x2="730.40" y2="881.00" stroke="#383838" stroke-width="1.2"/>
<line x1="664.00" y1="878.00" x2="730.40" y2="878.00" stroke="#383838" stroke-width="1.2"/>
<polygon points="664.00,878.00 673.00,876.10 673.00,879.90" fill="#1a1a1a"/>
<polygon points="730.40,878.00 721.40,879.90 721.40,876.10" fill="#1a1a1a"/>
<text x="685.14" y="874.00" font-size="22.97" font-weight="normal" fill="#1e1e1e" textLength="26.00" lengthAdjust="spacingAndGlyphs" >32</text>
<polyline points="731.00,826.00 754.00,877.50 887.00,877.50" stroke="#383838" stroke-width="1.2" fill="none" stroke-linejoin="round"/>
<text x="762.47" y="874.50" font-size="22.68" font-weight="normal" fill="#1e1e1e" textLength="56.77" lengthAdjust="spacingAndGlyphs" >4–M3</text>
<path d="M821.71,859.12 L821.71,869.50 Q821.71,874.15 820.40,876.30 M821.71,859.12 L835.98,859.12 L835.98,874.51 Q835.98,876.30 834.18,876.30 L832.54,876.30 M821.71,864.84 L835.98,864.84 M821.71,870.21 L835.98,870.21 M828.93,859.12 L828.93,876.30" stroke="#1e1e1e" stroke-width="1.4" fill="none" stroke-linejoin="round"/>
<path d="M841.10,858.92 L843.57,861.10 M840.40,864.72 L842.86,866.89 M840.75,876.30 L843.92,869.42 M845.68,863.27 L845.68,860.01 L858.00,860.01 L858.00,863.27 M849.20,864.72 L849.20,869.06 Q848.85,874.49 845.68,876.30 M849.20,864.72 L853.78,864.72 L853.78,874.49 Q853.78,876.30 855.54,876.30 L858.00,876.30 L858.00,873.40" stroke="#1e1e1e" stroke-width="1.4" fill="none" stroke-linejoin="round"/>
<path d="M863.36,858.92 L865.88,861.82 M861.92,863.63 L864.80,866.16 M871.10,858.20 L871.10,867.25 Q870.20,873.58 862.10,876.30 M861.20,869.06 L879.20,869.06 M872.00,870.87 L878.30,876.30" stroke="#1e1e1e" stroke-width="1.4" fill="none" stroke-linejoin="round"/>
</svg>
</body></html>
